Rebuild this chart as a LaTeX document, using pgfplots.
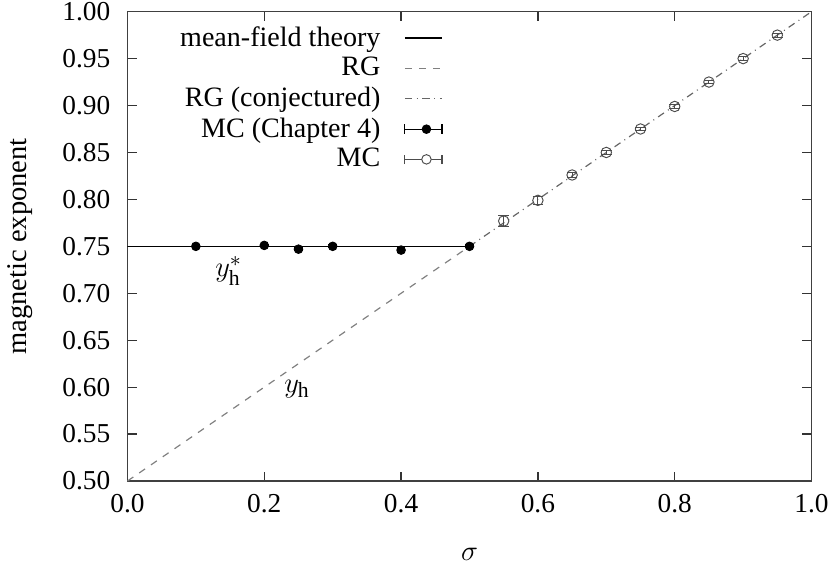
\documentclass[border=0pt]{standalone}
\usepackage{pgfplots}
\pgfplotsset{compat=1.18}
\usepackage{fontspec}
\setmainfont{Liberation Serif}
\begin{document}
\begin{tikzpicture}
\begin{axis}[
  scale only axis,
  width=287.7pt, height=197.4pt,
  xmin=0, xmax=1, ymin=0.5, ymax=1.0,
  xtick={0,0.2,...,1.0},
  ytick={0.50,0.55,...,1.001},
  tick label style={font=\fontsize{11.5}{14}\selectfont, inner sep=1pt},
  xticklabel style={yshift=-4.5pt, /pgf/number format/fixed, /pgf/number format/fixed zerofill, /pgf/number format/precision=1},
  yticklabel style={xshift=-6pt, /pgf/number format/fixed, /pgf/number format/fixed zerofill, /pgf/number format/precision=2},
  /pgf/number format/assume math mode=true,
  label style={font=\fontsize{12}{14}\selectfont},
  xlabel={$\sigma$},
  ylabel={magnetic exponent},
  xlabel style={at={(0.5,0)}, anchor=center, yshift=-31pt},
  ylabel style={at={(0,0.5)}, anchor=center, rotate=0, yshift=45pt},
  tick align=inside,
  major tick length=4pt,
  tick style={line width=0.5pt, black!80},
  axis line style={line width=0.6pt, black!75},
  legend style={draw=none, fill=none, at={(0.472,0.99)}, anchor=north east,
    font=\fontsize{11.8}{11.8}\selectfont, row sep=-0.8pt},
  legend cell align=right,
  legend plot pos=right,
  legend image code/.code={\path (0cm,0cm); \draw[#1] (0.28cm,0cm) -- (0.83cm,0cm);},
]
\addplot[black, line width=0.6pt] coordinates {(0,0.75) (0.5,0.75)};
\addlegendentry{mean-field theory}
\addplot[gray, dashed, line width=0.5pt] coordinates {(0,0.5) (0.5,0.75)};
\addlegendentry{RG}
\addplot[gray!80!black, dash dot, line width=0.5pt] coordinates {(0.5,0.75) (1.0,1.0)};
\addlegendentry{RG (conjectured)}
\addplot[black, only marks, mark=*, mark size=1.8pt,
  legend image code/.code={
  \path (0cm,0cm);
  \draw[black, line width=0.5pt, solid] (0.28cm,0cm) -- (0.83cm,0cm);
  \draw[black, line width=0.5pt, solid] (0.28cm,-2pt) -- (0.28cm,2pt) (0.83cm,-2pt) -- (0.83cm,2pt);
  \fill[black] (0.6cm,0cm) circle (1.8pt);},
  error bars/.cd, y dir=both, y explicit,
  error bar style={black}]
  coordinates {
  (0.1,0.750) +- (0,0.0015)
  (0.2,0.751) +- (0,0.0015)
  (0.25,0.747) +- (0,0.0015)
  (0.3,0.750) +- (0,0.0015)
  (0.4,0.746) +- (0,0.003)
  (0.5,0.750) +- (0,0.0015)
  };
\addlegendentry{MC (Chapter 4)}
\addplot[gray!60!black, only marks, mark=o, mark size=2.2pt,
  legend image code/.code={
  \path (0cm,0cm);
  \draw[gray!60!black, line width=0.5pt, solid] (0.28cm,0cm) -- (0.83cm,0cm);
  \draw[gray!60!black, line width=0.5pt, solid] (0.28cm,-2pt) -- (0.28cm,2pt) (0.83cm,-2pt) -- (0.83cm,2pt);
  \draw[gray!60!black, fill=white, solid] (0.6cm,0cm) circle (2pt);},
  error bars/.cd, y dir=both, y explicit,
  error bar style={gray!60!black}]
  coordinates {
  (0.55,0.777) +- (0,0.006)
  (0.60,0.799) +- (0,0.004)
  (0.65,0.826) +- (0,0.003)
  (0.70,0.850) +- (0,0.002)
  (0.75,0.875) +- (0,0.002)
  (0.80,0.899) +- (0,0.002)
  (0.85,0.925) +- (0,0.002)
  (0.90,0.950) +- (0,0.002)
  (0.95,0.975) +- (0,0.002)
  };
\addlegendentry{MC}
\node[font=\fontsize{13}{13}\selectfont] at (axis cs:0.148,0.724) {$y_{\mathrm{h}}^{\ast}$};
\node[font=\fontsize{13}{13}\selectfont] at (axis cs:0.248,0.598) {$y_{\mathrm{h}}$};
\end{axis}
\end{tikzpicture}
\end{document}
